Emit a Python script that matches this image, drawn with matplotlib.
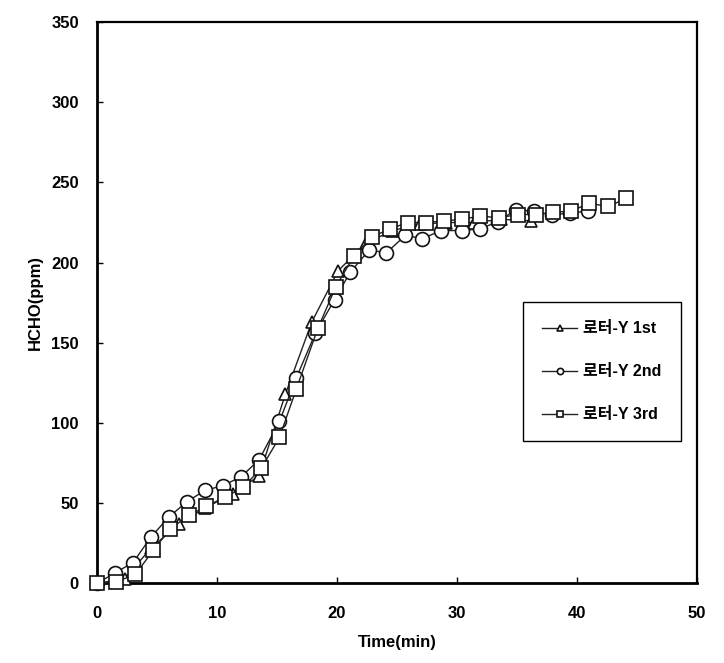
import matplotlib
matplotlib.use("Agg")
import matplotlib.pyplot as plt

# data (time in min, HCHO in ppm)
t_1st = [0, 2.3, 4.5, 6.8, 9.0, 11.3, 13.5, 15.7, 17.9, 20.1, 22.4, 24.6, 26.9, 29.1, 31.4, 33.7, 36.2]
y_1st = [0, 3, 22, 37, 47, 56, 67, 118, 163, 195, 212, 220, 224, 225, 225, 227, 226]

t_2nd = [0, 1.5, 3.0, 4.5, 6.0, 7.5, 9.0, 10.5, 12.0, 13.5, 15.2, 16.6, 18.2, 19.8,
         21.1, 22.7, 24.1, 25.7, 27.1, 28.7, 30.4, 31.9, 33.4, 34.9, 36.4, 37.9, 39.4, 40.9]
y_2nd = [0, 6.6, 13, 29, 41.5, 51, 58, 61, 66.5, 77, 101, 128, 156, 177,
         194, 208, 206, 217, 215, 220, 220, 221, 225.5, 233, 232, 229.6, 231, 232]

t_3rd = [0, 1.6, 3.2, 4.7, 6.1, 7.7, 9.1, 10.7, 12.2, 13.7, 15.2, 16.6, 18.4, 19.9, 21.4,
         22.9, 24.4, 25.9, 27.4, 28.9, 30.4, 31.9, 33.5, 35.1, 36.6, 38.0, 39.5, 41.0, 42.6, 44.1]
y_3rd = [0, 1, 5.6, 20.8, 34, 42.6, 48, 54, 60, 72, 91, 121, 159, 185, 204,
         216, 221, 225, 225, 226, 227, 229, 228, 230, 230, 231.5, 232, 237, 235, 240]

labels = ["로터-Y 1st", "로터-Y 2nd", "로터-Y 3rd"]
x_ticks = [0, 10, 20, 30, 40, 50]
y_ticks = [0, 50, 100, 150, 200, 250, 300, 350]

fuentes = ["Liberation Sans", "Noto Sans CJK KR", "DejaVu Sans"]
plt.rcParams["font.family"] = fuentes
plt.rcParams["font.weight"] = "bold"

fig = plt.figure(figsize=(7.24, 6.63), dpi=100)
ax = fig.add_axes([0.134, 0.12, 0.8287, 0.8468])

estilo = dict(color="#222222", lw=1.0, mfc="white", mec="#111111", mew=1.2, clip_on=False)
ax.plot(t_1st, y_1st, marker="^", ms=9, label=labels[0], zorder=3, **estilo)
ax.plot(t_2nd, y_2nd, marker="o", ms=10, label=labels[1], zorder=4, **estilo)
ax.plot(t_3rd, y_3rd, marker="s", ms=9.5, label=labels[2], zorder=5, **estilo)

ax.set_xlim(0, 50)
ax.set_ylim(0, 350)
ax.set_xticks(x_ticks)
ax.set_yticks(y_ticks)
ax.tick_params(direction="in", length=4, width=1, labelsize=12, top=False, right=False)
ax.tick_params(axis="x", pad=16)
ax.tick_params(axis="y", pad=13)
for lbl in ax.get_xticklabels() + ax.get_yticklabels():
    lbl.set_fontweight("bold")

ax.spines["left"].set_linewidth(2.0)
ax.spines["bottom"].set_linewidth(2.0)
ax.spines["top"].set_linewidth(1.6)
ax.spines["right"].set_linewidth(1.6)

ax.set_xlabel("Time(min)", fontsize=12, fontweight="bold", labelpad=10)
ax.set_ylabel("HCHO(ppm)", fontsize=12, fontweight="bold", labelpad=6)

leg = ax.legend(loc="upper left", bbox_to_anchor=(0.71, 0.501),
                markerscale=0.45, handlelength=2.2, handletextpad=0.38,
                labelspacing=1.75, borderpad=1.2, borderaxespad=0,
                fancybox=False, framealpha=1, edgecolor="black",
                prop={"weight": "bold", "size": 11.5, "family": fuentes})
leg.get_frame().set_linewidth(1.0)

fig.savefig("out.png", dpi=100)
